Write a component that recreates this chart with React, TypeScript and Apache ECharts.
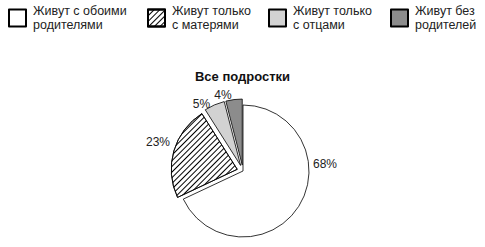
import React, { useEffect, useRef } from "react";
import * as echarts from "echarts";

const categories = [
  "Живут с обоими\nродителями",
  "Живут только\nс матерями",
  "Живут только\nс отцами",
  "Живут без\nродителей",
];
const values = [68, 23, 5, 4];
const labels = ["68%", "23%", "5%", "4%"];
const title = "Все подростки";

const fills = ["#ffffff", "#ffffff", "#d2d2d2", "#8c8c8c"];
const legendLeft = [8, 147, 268, 390];
const pieCenter = [243, 171];
const explode = 6;
// label placement relative to the pie centre (styling)
const labelShift: [number, number][] = [
  [82, -7],
  [-85, -29.5],
  [-41.5, -67.5],
  [-20, -76.5],
];

const hatch = {
  symbol: "rect",
  symbolSize: 1,
  dashArrayX: [1, 0],
  dashArrayY: [1, 3],
  rotation: -Math.PI / 4,
  color: "#000000",
  backgroundColor: "#ffffff",
};

export default function App() {
  const ref = useRef<HTMLDivElement>(null);
  useEffect(() => {
    if (!ref.current) return;
    const chart = echarts.init(ref.current, null, { renderer: "svg" });
    const font = "Liberation Sans, Arial, sans-serif";
    const total = values.reduce((a, b) => a + b, 0);
    // bisector direction of each slice (clockwise from 12 o'clock)
    const dirs: [number, number][] = [];
    let acc = 0;
    values.forEach((v) => {
      const mid = ((acc + v / 2) / total) * Math.PI * 2;
      dirs.push([Math.sin(mid), -Math.cos(mid)]);
      acc += v;
    });
    const data = values.map((v, i) => ({
      name: categories[i],
      value: v,
      selected: i > 0,
      itemStyle: {
        color: fills[i],
        borderColor: "#000",
        borderWidth: 0.8,
        ...(i === 1 ? { decal: hatch } : {}),
      },
      label: { formatter: labels[i] },
    }));
    chart.setOption({
      animation: false,
      backgroundColor: "#ffffff",
      title: {
        text: title,
        left: "center",
        top: 65,
        textStyle: { fontFamily: font, fontSize: 13, fontWeight: "bold", color: "#111" },
      },
      legend: categories.map((c, i) => ({
        data: [c],
        left: legendLeft[i],
        top: 4,
        orient: "horizontal",
        itemWidth: 17,
        itemHeight: 17,
        padding: 0,
        selectedMode: false,
        icon: "rect",
        textStyle: {
          fontFamily: font,
          fontSize: 12.5,
          lineHeight: 14,
          color: "#222",
          padding: [0, 0, 0, 2],
        },
      })),
      series: [
        {
          type: "pie",
          center: pieCenter,
          radius: 66,
          startAngle: 90,
          clockwise: true,
          selectedMode: "multiple",
          selectedOffset: explode,
          avoidLabelOverlap: false,
          data,
          label: {
            show: true,
            position: "outside",
            fontFamily: font,
            fontSize: 12,
            color: "#222",
          },
          labelLine: { show: false },
          labelLayout: (p: any) => {
            const i = p.dataIndex;
            const r = p.labelRect;
            const off = i > 0 ? explode : 0;
            const tx = pieCenter[0] + labelShift[i][0] - dirs[i][0] * off;
            const ty = pieCenter[1] + labelShift[i][1] - dirs[i][1] * off;
            return {
              dx: tx - (r.x + r.width / 2),
              dy: ty - (r.y + r.height / 2),
            };
          },
          emphasis: { disabled: true },
        },
      ],
    });
    return () => chart.dispose();
  }, []);
  return (
    <div
      ref={ref}
      style={{ position: "absolute", left: 0, top: 0, width: 485, height: 247 }}
    />
  );
}
